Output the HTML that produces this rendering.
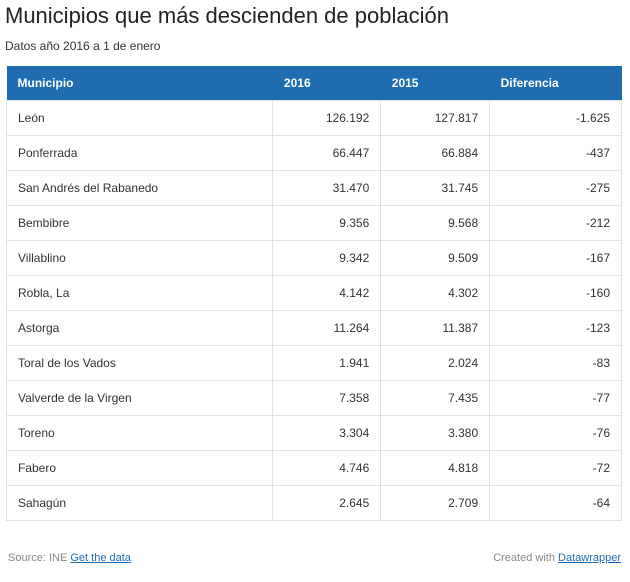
<!DOCTYPE html>
<html><head><meta charset="utf-8"><style>
body{margin:0;width:630px;height:582px;background:#fff;font-family:"Liberation Sans",Arial,sans-serif;color:#333;position:relative;overflow:hidden}
h1{position:absolute;left:5px;top:3px;margin:0;font-weight:normal;font-size:22px;color:#222}
.sub{position:absolute;left:5px;top:39px;font-size:12px;color:#333}
table{position:absolute;left:6px;top:66px;width:616px;border-collapse:collapse;font-size:12px}
th{background:#1f6db0;color:#fff;height:34px;text-align:left;padding:0 11px;font-weight:bold;box-sizing:border-box}
td{height:35px;border:1px solid #e2e2e2;padding:0 11px;box-sizing:border-box;color:#333}
td.n{text-align:right}
.foot{position:absolute;top:552px;font-size:11px;color:#888}
.foot a{color:#1f6db0;text-decoration:underline}
</style></head><body>
<h1>Municipios que más descienden de población</h1>
<div class="sub">Datos año 2016 a 1 de enero</div>
<table>
<colgroup><col style="width:267px"><col style="width:108px"><col style="width:109px"><col style="width:132px"></colgroup>
<tr><th>Municipio</th><th>2016</th><th>2015</th><th>Diferencia</th></tr>
<tr><td>León</td><td class="n">126.192</td><td class="n">127.817</td><td class="n">-1.625</td></tr>
<tr><td>Ponferrada</td><td class="n">66.447</td><td class="n">66.884</td><td class="n">-437</td></tr>
<tr><td>San Andrés del Rabanedo</td><td class="n">31.470</td><td class="n">31.745</td><td class="n">-275</td></tr>
<tr><td>Bembibre</td><td class="n">9.356</td><td class="n">9.568</td><td class="n">-212</td></tr>
<tr><td>Villablino</td><td class="n">9.342</td><td class="n">9.509</td><td class="n">-167</td></tr>
<tr><td>Robla, La</td><td class="n">4.142</td><td class="n">4.302</td><td class="n">-160</td></tr>
<tr><td>Astorga</td><td class="n">11.264</td><td class="n">11.387</td><td class="n">-123</td></tr>
<tr><td>Toral de los Vados</td><td class="n">1.941</td><td class="n">2.024</td><td class="n">-83</td></tr>
<tr><td>Valverde de la Virgen</td><td class="n">7.358</td><td class="n">7.435</td><td class="n">-77</td></tr>
<tr><td>Toreno</td><td class="n">3.304</td><td class="n">3.380</td><td class="n">-76</td></tr>
<tr><td>Fabero</td><td class="n">4.746</td><td class="n">4.818</td><td class="n">-72</td></tr>
<tr><td>Sahagún</td><td class="n">2.645</td><td class="n">2.709</td><td class="n">-64</td></tr>
</table>
<div class="foot" style="left:8px">Source: INE <a>Get the data</a></div>
<div class="foot" style="right:9px">Created with <a>Datawrapper</a></div>
</body></html>
